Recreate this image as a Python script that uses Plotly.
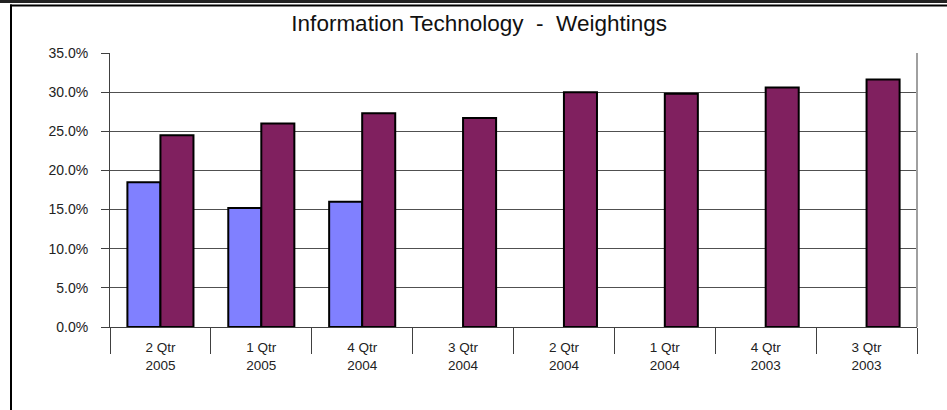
import plotly.graph_objects as go

categories = ["2 Qtr<br>2005", "1 Qtr<br>2005", "4 Qtr<br>2004", "3 Qtr<br>2004",
              "2 Qtr<br>2004", "1 Qtr<br>2004", "4 Qtr<br>2003", "3 Qtr<br>2003"]
series_a = [18.5, 15.2, 16.0, None, None, None, None, None]
series_b = [24.5, 26.0, 27.3, 26.7, 30.0, 29.8, 30.6, 31.6]
y_tick_vals = [0, 5, 10, 15, 20, 25, 30, 35]
y_tick_text = ["0.0%", "5.0%", "10.0%", "15.0%", "20.0%", "25.0%", "30.0%", "35.0%"]
title_text = "Information Technology  -  Weightings"

FONT = "Liberation Sans, Arial, sans-serif"

fig = go.Figure()
fig.add_trace(go.Bar(x=categories, y=series_a, marker=dict(color="#8080FF", line=dict(color="#000000", width=2)),
                     hoverinfo="skip"))
fig.add_trace(go.Bar(x=categories, y=series_b, marker=dict(color="#80205F", line=dict(color="#000000", width=2)),
                     hoverinfo="skip"))

fig.update_layout(
    width=947, height=410,
    margin=dict(l=110, r=30, t=53, b=83),
    paper_bgcolor="white", plot_bgcolor="white",
    showlegend=False,
    barmode="group", bargap=0.345, bargroupgap=0,
    font=dict(family=FONT, size=13, color="#222222"),
    title=dict(text=title_text, x=0.506, xref="container", xanchor="center", y=0.943, yanchor="middle",
               font=dict(family=FONT, size=22.5, color="#111111")),
)

fig.update_xaxes(
    type="category", range=[-0.5, 7.5],
    showline=True, linecolor="#404040", linewidth=1,
    ticks="outside", tickson="boundaries", ticklen=26, tickcolor="#404040", tickwidth=1,
    ticklabelstandoff=8,
    tickfont=dict(family=FONT, size=13.5, color="#222222"),
    showgrid=False, fixedrange=True,
)
fig.update_yaxes(
    range=[0, 35], tickvals=y_tick_vals, ticktext=y_tick_text,
    showline=True, linecolor="#404040", linewidth=1,
    ticks="outside", ticklen=8, tickcolor="#404040", tickwidth=1,
    ticklabelstandoff=10,
    showgrid=True, gridcolor="#505050", gridwidth=1, zeroline=False,
    tickfont=dict(family=FONT, size=14, color="#222222"),
    fixedrange=True,
)

# plot-area right border
fig.add_shape(type="line", xref="paper", yref="paper", x0=1, x1=1, y0=0, y1=1,
              line=dict(color="#A0A0A0", width=2))
# outer frame: top band, top line, left line
fig.add_shape(type="line", xref="paper", yref="paper", xsizemode="pixel", ysizemode="pixel",
              xanchor=0, yanchor=1, x0=-110, x1=850, y0=51.5, y1=51.5,
              line=dict(color="#222222", width=3))
fig.add_shape(type="line", xref="paper", yref="paper", xsizemode="pixel", ysizemode="pixel",
              xanchor=0, yanchor=1, x0=-100, x1=850, y0=47.5, y1=47.5,
              line=dict(color="#000000", width=2))
fig.add_shape(type="line", xref="paper", yref="paper", xsizemode="pixel", ysizemode="pixel",
              xanchor=0, yanchor=1, x0=-99, x1=-99, y0=48.5, y1=-370,
              line=dict(color="#000000", width=2))

fig.write_html("out.html", config={"displayModeBar": False},
               post_script="document.body.style.margin='0';document.body.style.overflow='hidden';")
